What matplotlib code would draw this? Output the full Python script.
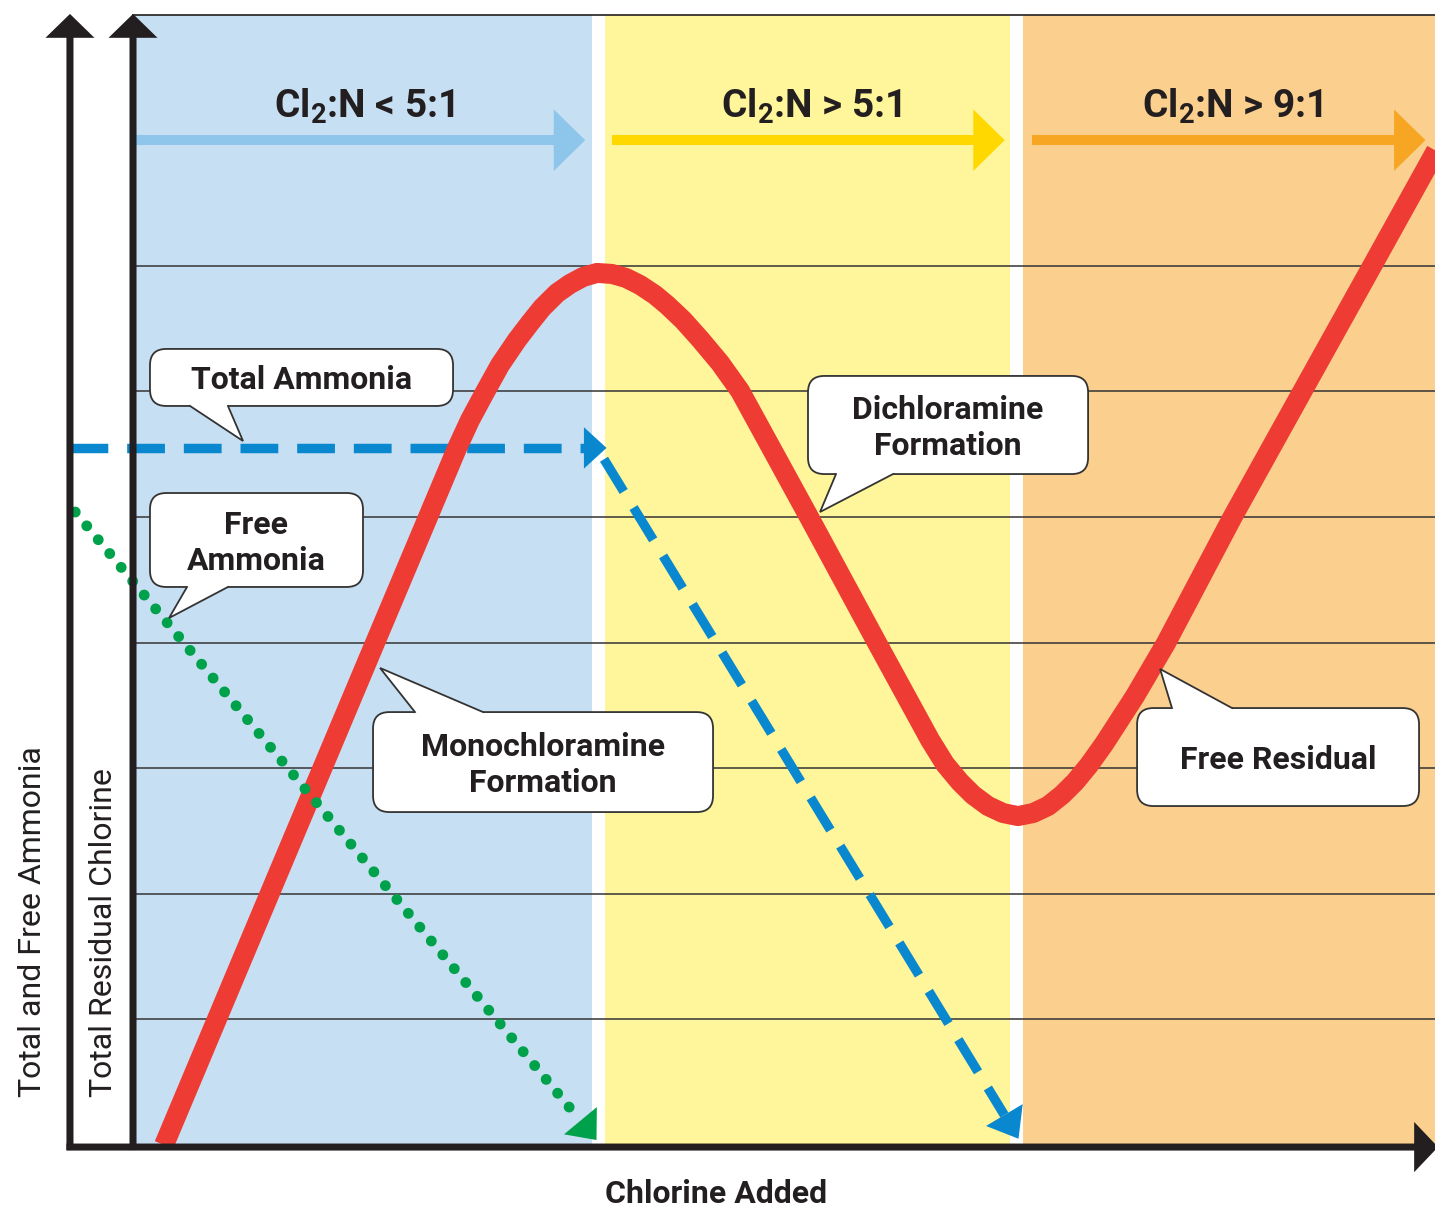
import numpy as np
import matplotlib.pyplot as plt
from matplotlib.patches import FancyBboxPatch, Polygon

plt.rcParams['font.family'] = ['Roboto', 'DejaVu Sans']
plt.rcParams['mathtext.default'] = 'regular'

INK = '#231F20'

# chlorine-to-nitrogen ratio zones along "chlorine added"
band_edges = [(0.0, 3.654), (3.758, 6.982), (7.086, 10.37)]
band_colors = ['#C7DFF2', '#FFF59A', '#FBCF8D']
ratio_labels = ['Cl$_2$:N < 5:1', 'Cl$_2$:N > 5:1', 'Cl$_2$:N > 9:1']
ratio_arrow_colors = ['#8EC5EA', '#FFD800', '#F6A623']
ratio_arrow_x = [(0.02, 3.60), (3.81, 6.94), (7.16, 10.29)]
grid_y = [1, 2, 3, 4, 5, 6, 7]

# total residual chlorine (breakpoint curve)
chlorine_x = [0.247, 1.903, 2.349, 2.580, 2.683, 2.803, 2.922, 3.057, 3.161, 3.256,
              3.376, 3.479, 3.583, 3.694, 3.814, 3.925, 4.037, 4.156, 4.252, 4.379,
              4.514, 4.674, 4.833, 5.382, 5.924, 6.346, 6.465, 6.584, 6.688, 6.807,
              6.927, 7.046, 7.166, 7.285, 7.396, 7.500, 7.611, 7.731, 7.978, 8.225,
              8.750, 9.307, 9.865, 10.422]
chlorine_y = [0.000, 3.941, 5.000, 5.549, 5.772, 5.995, 6.210, 6.409, 6.545, 6.664,
              6.783, 6.855, 6.911, 6.943, 6.935, 6.903, 6.847, 6.768, 6.688, 6.568,
              6.417, 6.226, 6.003, 5.000, 3.997, 3.225, 3.033, 2.890, 2.787, 2.699,
              2.643, 2.619, 2.643, 2.699, 2.787, 2.890, 3.025, 3.193, 3.575, 3.997,
              4.992, 5.995, 6.998, 8.002]

# ammonia
total_nh3_x = [-0.50, 3.77, 7.05]
total_nh3_y = [5.55, 5.55, 0.05]
free_nh3_x = [-0.46, 3.69]
free_nh3_y = [5.04, 0.04]

fig = plt.figure(figsize=(14.35, 12.13), dpi=100)
ax = fig.add_axes([0, 0, 1, 1])
ax.set_xlim(-1.059, 10.366)
ax.set_ylim(-0.541, 9.116)
ax.axis('off')


def head(p_from, p_to, color, hw, hl, z):
    d = np.array(p_to) - np.array(p_from)
    u = d / np.hypot(*d)
    n = np.array([-u[1], u[0]])
    tip = np.array(p_to)
    base = tip - u * hl
    ax.add_patch(Polygon([tip, base + n * hw / 2, base - n * hw / 2],
                         closed=True, fc=color, ec='none', zorder=z))
    return base


# zones
for (x0, x1), c in zip(band_edges, band_colors):
    ax.fill_between([x0, x1], 0, 9.0, color=c, lw=0, zorder=0)
ax.plot([0, 10.37], [9.0, 9.0], color=INK, lw=1.2, zorder=1)
ax.hlines(grid_y, 0, 10.37, color='#333333', lw=1.1, zorder=1)

# ratio arrows and labels
for (x0, x1), c, lab in zip(ratio_arrow_x, ratio_arrow_colors, ratio_labels):
    b = head((x0, 8.0), (x1, 8.0), c, 0.49, 0.25, 2)
    ax.plot([x0, b[0] + 0.01], [8.0, 8.0], color=c, lw=7.2,
            solid_capstyle='butt', zorder=2)
    ax.text((x0 + x1) / 2 + 0.03, 8.177, lab, ha='center', va='baseline',
            fontsize=28, fontweight='bold', color=INK, zorder=3)

# total ammonia (dashed blue)
blue = '#0A88CF'
b = head((total_nh3_x[0], total_nh3_y[0]), (total_nh3_x[1], total_nh3_y[1]),
         blue, 0.33, 0.18, 3)
ax.plot([total_nh3_x[0], b[0]], [total_nh3_y[0], b[1]], color=blue, lw=6.8,
        linestyle=(0, (4, 2)), dash_capstyle='butt', zorder=3)
b = head((total_nh3_x[1], total_nh3_y[1]), (total_nh3_x[2], total_nh3_y[2]),
         blue, 0.34, 0.22, 3)
ax.plot([total_nh3_x[1] - 0.02, b[0]], [total_nh3_y[1] - 0.09, b[1]], color=blue,
        lw=6.8, linestyle=(0, (4, 2)), dash_capstyle='butt', zorder=3)

# total residual chlorine
ax.plot(chlorine_x, chlorine_y, color='#EE3B33', lw=14.4, solid_capstyle='butt',
        solid_joinstyle='round', zorder=4)

# free ammonia (dotted green)
green = '#00A14B'
b = head((free_nh3_x[0], free_nh3_y[0]), (free_nh3_x[1], free_nh3_y[1]),
         green, 0.34, 0.2, 5)
ax.plot([free_nh3_x[0], b[0]], [free_nh3_y[0], b[1]], color=green, lw=7.8,
        linestyle=(0, (0.01, 1.65)), dash_capstyle='round', zorder=5)

# axes with arrowheads
ax.arrow(-0.502, -0.04, 0, 9.045, width=0.056, head_width=0.39, head_length=0.19,
         length_includes_head=True, color=INK, lw=0, zorder=6)
ax.arrow(0.0, -0.04, 0, 9.045, width=0.056, head_width=0.39, head_length=0.19,
         length_includes_head=True, color=INK, lw=0, zorder=6)
ax.arrow(-0.53, -0.016, 10.92, 0, width=0.056, head_width=0.40, head_length=0.19,
         length_includes_head=True, color=INK, lw=0, zorder=6)


def callout(x0, x1, y0, y1, tail, text):
    ax.add_patch(FancyBboxPatch((x0, y0), x1 - x0, y1 - y0,
                                boxstyle='round,pad=0,rounding_size=0.13',
                                fc='white', ec='#333333', lw=1.3, zorder=7))
    b0, b1, by, tx, ty = tail
    inward = -0.04 if ty > by else 0.04
    ax.add_patch(Polygon([(b0, by + inward), (b0, by), (tx, ty), (b1, by),
                          (b1, by + inward)], closed=True, fc='white',
                         ec='none', zorder=8))
    ax.plot([b0, tx, b1], [by, ty, by], color='#333333', lw=1.3,
            solid_joinstyle='miter', zorder=9)
    ax.text((x0 + x1) / 2, (y0 + y1) / 2 - 0.02, text, ha='center', va='center',
            fontsize=23, fontweight='bold', color=INK, linespacing=1.25, zorder=10)


callout(0.135, 2.548, 5.884, 6.338, (0.454, 0.756, 5.884, 0.876, 5.605), 'Total Ammonia')
callout(0.135, 1.831, 4.443, 5.191, (0.430, 0.756, 4.443, 0.287, 4.196), 'Free\nAmmonia')
callout(5.374, 7.604, 5.342, 6.123, (5.597, 6.051, 5.342, 5.470, 5.040),
        'Dichloramine\nFormation')
callout(1.911, 4.618, 2.651, 3.447, (2.245, 2.787, 3.447, 1.967, 3.798),
        'Monochloramine\nFormation')
callout(7.994, 10.239, 2.699, 3.479, (8.272, 8.750, 3.479, 8.177, 3.790), 'Free Residual')

# axis titles
ax.text(4.642, -0.462, 'Chlorine Added', ha='center', va='baseline',
        fontsize=23, fontweight='bold', color=INK)
ax.text(-0.80, 0.382, 'Total and Free Ammonia', rotation=90, rotation_mode='anchor',
        ha='left', va='center', fontsize=23, color=INK)
ax.text(-0.235, 0.382, 'Total Residual Chlorine', rotation=90, rotation_mode='anchor',
        ha='left', va='center', fontsize=23, color=INK)

fig.savefig('out.png', dpi=100)
